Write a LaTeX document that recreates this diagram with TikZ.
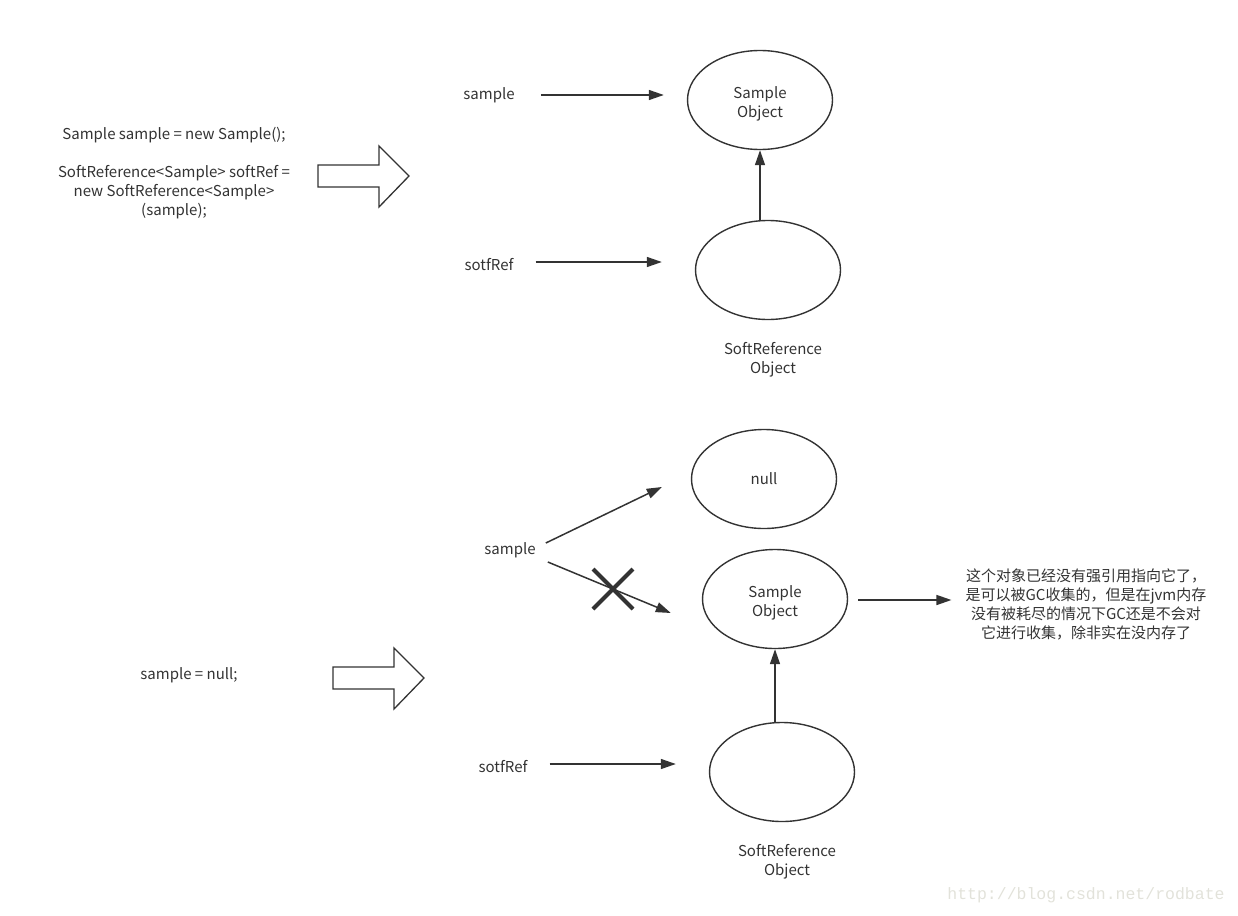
\documentclass[tikz,border=0pt]{standalone}
\usepackage{fontspec}
\setmainfont{Noto Sans CJK SC}
\newfontfamily\urlfont{Liberation Mono}
\usetikzlibrary{shapes.geometric,arrows.meta}
\definecolor{ink}{HTML}{333333}
\definecolor{mark}{HTML}{E2E2DA}
% two-line text inside an ellipse, set a little low so it sits visually centred
\newcommand\objtext[1]{\raisebox{-4pt}[\height][\depth]{\begin{tabular}{@{}c@{}}#1\end{tabular}}}
\tikzset{
  txt/.style={inner sep=0pt, text=ink, font=\fontsize{15}{19}\selectfont, align=center},
  obj/.style={ellipse, draw=ink, line width=1.4pt, minimum width=145pt, minimum height=99pt, inner sep=0pt, text=ink, font=\fontsize{15}{19}\selectfont},
  conn/.style={draw=ink, line width=1.5pt, -{Triangle[length=15pt,width=10pt]}},
  cross/.style={draw=ink, line width=4pt},
  hollow/.style={draw=ink, line width=1.3pt, fill=white, line join=miter},
  fatarrow/.pic={\draw[hollow] (0,-11) -- (61,-11) -- (61,-30) -- (91,0) -- (61,31) -- (61,11) -- (0,11) -- cycle;}
}
\begin{document}
\begin{tikzpicture}[x=1pt,y=-1pt]
\useasboundingbox (0,0) rectangle (1238,915);

% ---- before: strong and soft reference ----
\node[txt] (code1) at (174,173) {Sample sample = new Sample();\\[19pt]SoftReference<Sample> softRef =\\new SoftReference<Sample>\\(sample);};
\pic at (318,176) {fatarrow};

\node[obj] (o1) at (760,100) {\objtext{Sample\\Object}};
\node[obj] (r1) at (768,270) {};
\node[txt] (r1cap) at (773,360) {SoftReference\\Object};
\node[txt] (s1) at (489,95) {sample};
\node[txt] (f1) at (489,265) {sotfRef};

\draw[conn, shorten <=26pt, shorten >=23pt] (s1.east |- 0,95) -- (o1.west |- 0,95);
\draw[conn, shorten <=22pt, shorten >=33pt] (f1.east |- 0,262) -- (r1.west |- 0,262);
\draw[conn] (o1.south |- r1.north) -- (o1.south);

% ---- after: sample = null ----
\node[txt] (code2) at (189,675) {sample = null;};
\pic at (333,678) {fatarrow};

\node[obj] (n) at (764,479) {null};
\node[obj] (o2) at (775,599) {\objtext{Sample\\Object}};
\node[obj] (r2) at (782,772) {};
\node[txt] (r2cap) at (787,862) {SoftReference\\Object};
\node[txt] (s2) at (510,550) {sample};
\node[txt] (f2) at (503,767) {sotfRef};
\node[txt] (note) at (1086,604) {这个对象已经没有强引用指向它了，\\是可以被GC收集的，但是在jvm内存\\没有被耗尽的情况下GC还是不会对\\它进行收集，除非实在没内存了};

\draw[conn] ([xshift=10pt,yshift=7pt]s2.east) -- ([xshift=-29pt,yshift=-8pt]n.west);
\draw[conn] ([xshift=12pt,yshift=-12pt]s2.east) -- coordinate[pos=0.53] (cut) ([xshift=-31pt,yshift=-14pt]o2.west);
\draw[cross] ([shift={(-20,-20)}]cut) -- ([shift={(20,20)}]cut)
             ([shift={(20,-20)}]cut) -- ([shift={(-20,20)}]cut);
\draw[conn] (o2.south |- r2.north) -- (o2.south);
\draw[conn, shorten <=22pt, shorten >=33pt] (f2.east |- 0,764) -- (r2.west |- 0,764);
\draw[conn, shorten <=10pt, shorten >=14pt] (o2.east |- 0,600) -- (note.west |- 0,600);

\node[inner sep=0pt, text=mark, font=\urlfont\fontsize{16.5}{18}\selectfont] (url) at (1086,895) {http://blog.csdn.net/rodbate};
\end{tikzpicture}
\end{document}
